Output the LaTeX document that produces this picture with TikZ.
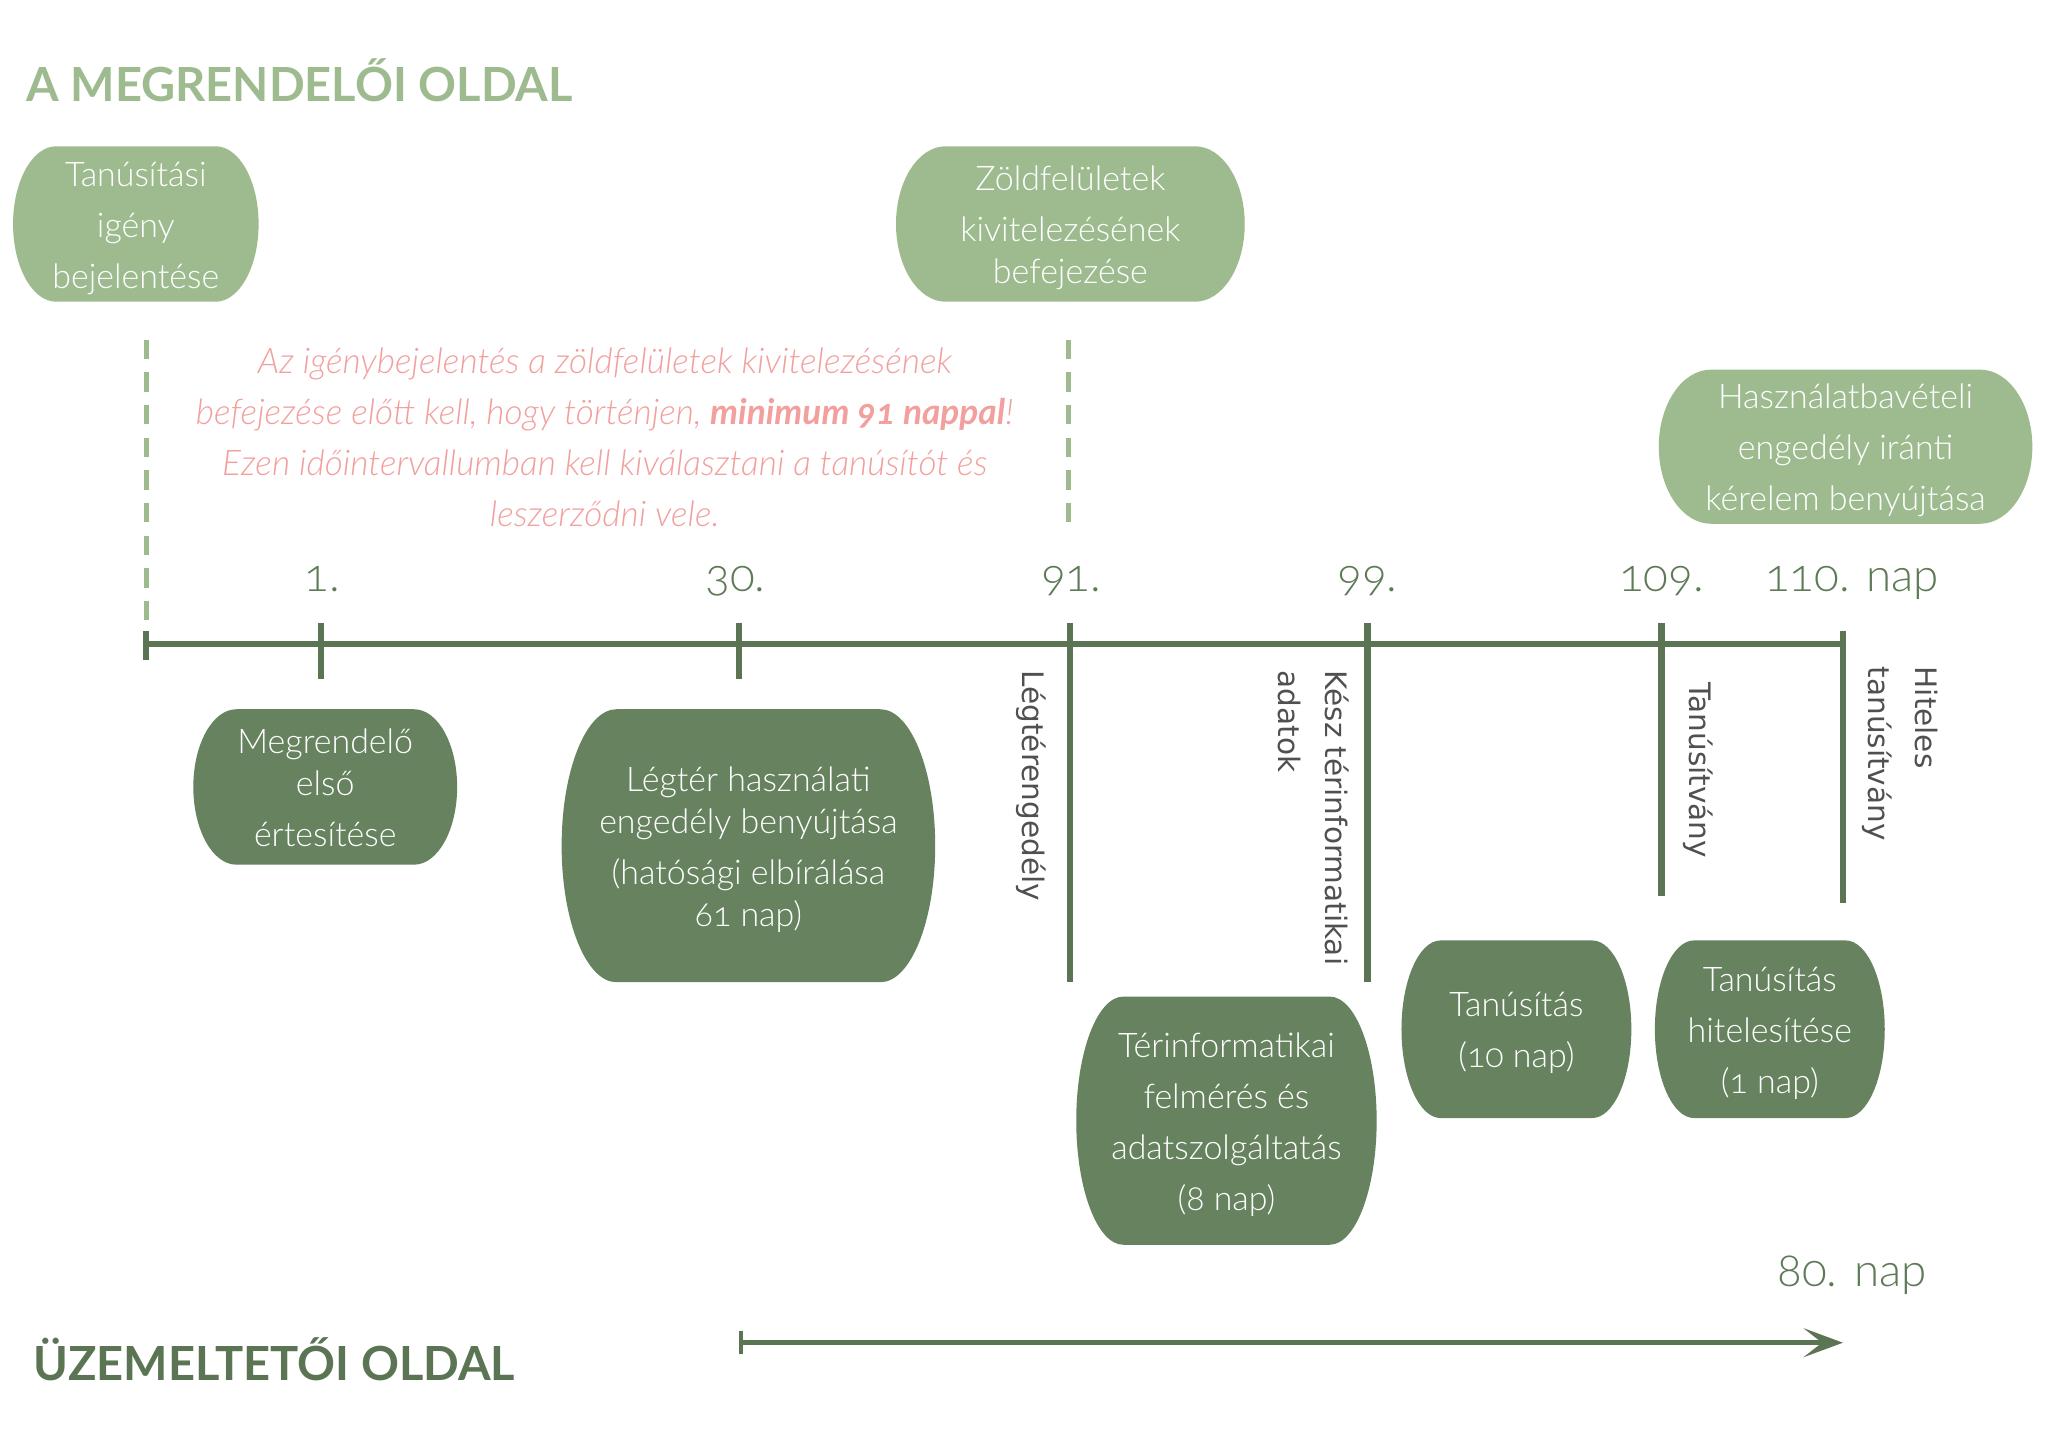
\documentclass[tikz,border=0pt]{standalone}
\usepackage{fontspec}
\setmainfont{Lato}[Numbers=OldStyle]
\IfFontExistsTF{Lato Light}{\newfontfamily\lightfont{Lato Light}[Numbers=OldStyle]}{\newfontfamily\lightfont{Lato}[Numbers=OldStyle]}
\newfontfamily\vfont{DejaVu Sans}
\usetikzlibrary{calc,backgrounds,arrows.meta}
\definecolor{lgreen}{HTML}{9EBB8F}
\definecolor{dgreen}{HTML}{66825F}
\definecolor{lineg}{HTML}{5B7554}
\definecolor{numg}{HTML}{5E7A57}
\definecolor{pinkt}{HTML}{F2A09E}
\definecolor{grayt}{HTML}{505050}
\newcommand\boxtop{\rule{0pt}{13pt}}
\newcommand\boxbot{\rule[-3pt]{0pt}{0pt}}
\newcommand\blobpath[2]{%
 ($(#1.north east)+(-#2,0)$)
 .. controls ($(#1.north east)+({-0.4477*#2},0)$) and ($(#1.east)!0.5523!(#1.north east)$) .. (#1.east)
 .. controls ($(#1.east)!0.5523!(#1.south east)$) and ($(#1.south east)+({-0.4477*#2},0)$) .. ($(#1.south east)+(-#2,0)$)
 -- ($(#1.south west)+(#2,0)$)
 .. controls ($(#1.south west)+({0.4477*#2},0)$) and ($(#1.west)!0.5523!(#1.south west)$) .. (#1.west)
 .. controls ($(#1.west)!0.5523!(#1.north west)$) and ($(#1.north west)+({0.4477*#2},0)$) .. ($(#1.north west)+(#2,0)$)
 -- cycle}
\tikzset{
 boxtext/.style={inner sep=0pt, outer sep=0pt, align=center, text=white,
   font=\lightfont\fontsize{13}{19.5}\selectfont},
 daynum/.style={anchor=base, inner sep=0pt, text=numg, font=\lightfont\fontsize{17.5}{20}\selectfont},
 vlabel/.style={rotate=-90, anchor=north west, inner sep=0pt, align=left, text=grayt,
   font=\vfont\fontsize{11.3}{18}\selectfont},
 axisline/.style={draw=lineg, line width=2.4pt},
 tickline/.style={draw=lineg, line width=2.4pt},
 dashline/.style={draw=lgreen, line width=2pt, dash pattern=on 7.5pt off 5pt},
 titletext/.style={anchor=base west, inner sep=0pt, font=\bfseries\fontsize{18}{20}\selectfont},
}
\begin{document}
\begin{tikzpicture}[x=0.5pt,y=-0.5pt]
\useasboundingbox (0,0) rectangle (1568,1108.6);

% titles
\node[titletext, text=lgreen] (t1) at (20,78) {A MEGRENDELŐI OLDAL};
\node[titletext, text=lineg] (t2) at (25,1057) {ÜZEMELTETŐI OLDAL};

% boxes
\node[boxtext, minimum width=94pt, minimum height=59.5pt] (tanus) at (104,171.5) {\boxtop Tanúsítási\\igény\\bejelentése\boxbot};
\node[boxtext, minimum width=133.5pt, minimum height=59.5pt] (zold) at (819.5,171.5) {\boxtop Zöldfelületek\\kivitelezésének\\[-3.5pt]befejezése\boxbot};
\node[boxtext, minimum width=143pt, minimum height=59pt] (haszn) at (1413,342) {\boxtop Használatbavételi\\engedély iránti\\kérelem benyújtása\boxbot};
\node[boxtext, minimum width=101pt, minimum height=59.5pt] (megr) at (249,602.5) {\boxtop Megrendelő\\[-3.5pt]első\\értesítése\boxbot};
\node[boxtext, minimum width=143pt, minimum height=104.5pt] (legter) at (573,647.5) {\boxtop Légtér használati\\[-3.5pt]engedély benyújtása\\(hatósági elbírálása\\[-3.5pt]61 nap)\boxbot};
\node[boxtext, minimum width=115pt, minimum height=95pt] (terinf) at (939,858) {\boxtop Térinformatikai\\felmérés és\\adatszolgáltatás\\(8 nap)\boxbot};
\node[boxtext, minimum width=88pt, minimum height=68pt] (tanusitas) at (1161,788) {\boxtop Tanúsítás\\(10 nap)\boxbot};
\node[boxtext, minimum width=88pt, minimum height=68pt] (hitel) at (1355,788) {\boxtop Tanúsítás\\hitelesítése\\(1 nap)\boxbot};

\begin{scope}[on background layer]
 \fill[white] (0,0) rectangle (1568,1108.6);
 \fill[lgreen] \blobpath{tanus}{33};
 \fill[lgreen] \blobpath{zold}{38};
 \fill[lgreen] \blobpath{haszn}{40};
 \fill[dgreen] \blobpath{megr}{33};
 \fill[dgreen] \blobpath{legter}{42};
 \fill[dgreen] \blobpath{terinf}{36};
 \fill[dgreen] \blobpath{tanusitas}{30};
 \fill[dgreen] \blobpath{hitel}{30};
\end{scope}

% note text
\node[align=center, inner sep=0pt, text=pinkt, font=\lightfont\itshape\fontsize{13.5}{19.5}\selectfont] (note) at (463,334.5)
 {Az igénybejelentés a zöldfelületek kivitelezésének\\
  befejezése előtt kell, hogy történjen, {\rmfamily\bfseries minimum 91 nappal}!\\
  Ezen időintervallumban kell kiválasztani a tanúsítót és\\
  leszerződni vele.};

% dashed lines
\coordinate (d1a) at (112,260);
\coordinate (d1b) at (112,486);
\coordinate (d2a) at (818,260);
\coordinate (d2b) at (818,404);
\draw[dashline] (d1a) -- (d1b);
\draw[dashline] (d2a) -- (d2b);

% axis
\coordinate (ax0) at (112,493);
\coordinate (ax1) at (1411,493);
\draw[axisline] (ax0) -- (ax1);
\draw[tickline] (112,483) -- (112,505);
\draw[tickline] (246,477) -- (246,520);
\draw[tickline] (566,477) -- (566,520);
\draw[tickline] (819,477) -- (819,752);
\draw[tickline] (1047,477) -- (1047,752);
\draw[tickline] (1272,477) -- (1272,686);
\draw[tickline] (1411,483) -- (1411,691);

% day numbers
\node[daynum] (n1) at (247,453) {1.};
\node[daynum] (n30) at (563,453) {30.};
\node[daynum] (n91) at (820,453) {91.};
\node[daynum] (n99) at (1047,453) {99.};
\node[daynum] (n109) at (1272,453) {109.};
\node[daynum] (n110) at (1418,453) {110. nap};
\node[daynum] (n80) at (1418,985) {80. nap};

% vertical labels
\node[vlabel] (v1) at (801,513) {Légtérengedély};
\node[vlabel] (v2) at (1033,513) {Kész térinformatikai\\adatok};
\node[vlabel] (v3) at (1312,522) {Tanúsítvány};
\node[vlabel] (v4) at (1484,510) {Hiteles\\tanúsítvány};

% operator arrow
\coordinate (arrS) at (567,1028);
\coordinate (arrE) at (1411,1028);
\draw[draw=lineg, line width=2pt, -{Stealth[length=15pt,width=11pt,inset=7pt]}] (arrS) -- (arrE);
\draw[draw=lineg, line width=1.5pt] (arrS) ++(0,-9) -- ++(0,18);
\end{tikzpicture}
\end{document}
